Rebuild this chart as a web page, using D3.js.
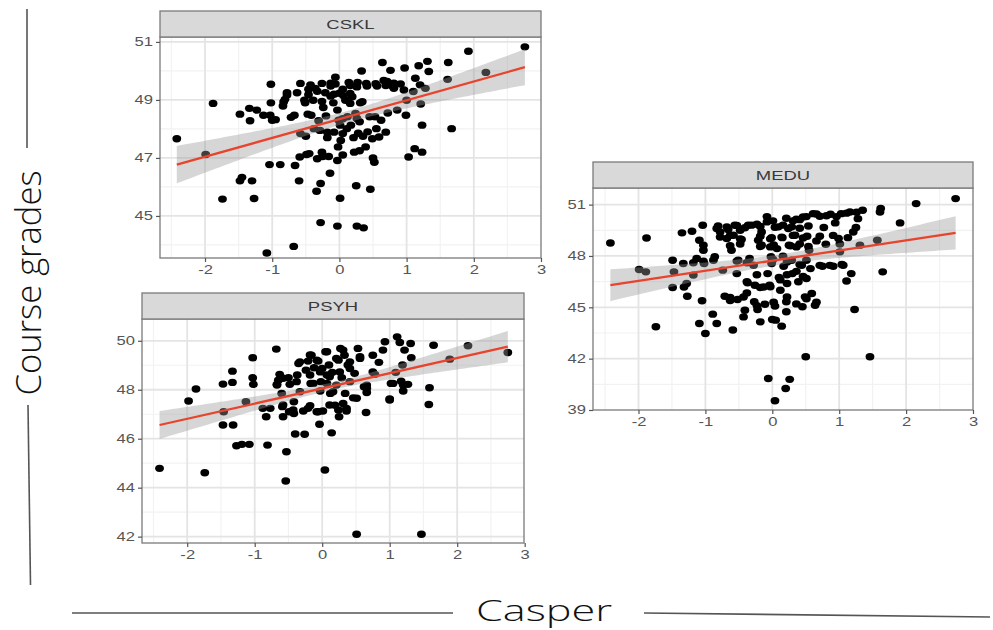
<!DOCTYPE html>
<html><head><meta charset="utf-8">
<script src="https://cdnjs.cloudflare.com/ajax/libs/d3/7.8.5/d3.min.js"></script>
<style>body{margin:0;background:#fff}svg{display:block}</style>
</head><body>
<svg id="chart" width="993" height="630"></svg>
<script>
// ---------- data ----------
const xTicks = [-2, -1, 0, 1, 2, 3];
const xMinor = [-2.5, -1.5, -0.5, 0.5, 1.5, 2.5];
const csklTicks = [45, 47, 49, 51];
const csklMinor = [44, 46, 48, 50];
const meduTicks = [39, 42, 45, 48, 51];
const meduMinor = [40.5, 43.5, 46.5, 49.5];
const psyhTicks = [42, 44, 46, 48, 50];
const psyhMinor = [43, 45, 47, 49];
const panelNames = ["CSKL", "MEDU", "PSYH"];
const xTitle = "Casper";
const yTitle = "Course grades";

const csklPoints = [[-2.42,47.66],[-1.99,47.12],[-1.88,48.88],[-1.74,45.58],[-1.48,48.51],[-1.48,46.21],[-1.45,46.33],[-1.34,48.71],[-1.33,48.28],[-1.30,46.21],[-1.27,45.60],[-1.23,48.65],[-1.13,48.47],[-1.08,43.72],[-1.02,49.54],[-1.02,48.90],[-1.03,48.47],[-1.00,48.30],[-1.04,46.77],[-0.88,46.77],[-0.84,48.79],[-0.81,49.02],[-0.78,49.17],[-0.68,43.95],[-0.66,46.74],[-0.67,48.47],[-0.63,49.25],[-0.58,49.57],[-0.58,47.84],[-0.60,46.21],[-0.59,47.03],[-0.52,48.99],[-0.49,47.12],[-0.47,48.51],[-0.46,49.37],[-0.42,48.47],[-0.39,48.99],[-0.38,48.01],[-0.36,49.40],[-0.34,45.85],[-0.33,46.97],[-0.31,48.28],[-0.29,47.95],[-0.28,46.12],[-0.28,44.77],[-0.26,49.57],[-0.26,47.20],[-0.24,48.74],[-0.21,49.25],[-0.18,47.89],[-0.16,47.05],[-0.14,46.47],[-0.13,49.48],[-0.13,49.13],[-0.09,48.90],[-0.08,47.89],[-0.06,49.55],[-0.06,49.78],[-0.03,48.65],[-0.03,46.91],[-0.03,44.65],[-0.02,47.38],[-0.01,48.30],[0.00,49.23],[0.01,48.13],[0.01,45.61],[0.02,47.60],[0.05,47.84],[0.05,49.37],[0.09,48.99],[0.11,48.01],[0.12,48.42],[0.14,49.60],[0.16,48.88],[0.17,48.13],[0.19,49.11],[0.21,47.70],[0.22,47.20],[0.25,46.04],[0.26,44.65],[0.27,49.60],[0.24,48.53],[0.26,48.36],[0.33,50.00],[0.34,48.94],[0.36,44.59],[0.39,47.38],[0.40,49.57],[0.41,49.48],[0.45,48.42],[0.46,45.92],[0.49,47.66],[0.52,46.85],[0.53,48.42],[0.55,48.01],[0.56,49.48],[0.59,47.72],[0.64,50.29],[0.66,49.67],[0.69,47.89],[0.71,49.64],[0.76,50.02],[0.79,49.48],[0.81,49.40],[0.86,48.65],[0.91,49.55],[0.96,49.34],[0.97,50.10],[0.99,48.47],[1.00,48.99],[1.03,47.03],[1.10,49.29],[1.12,47.32],[1.13,49.75],[1.18,50.18],[1.20,49.52],[1.21,48.86],[1.23,48.13],[1.23,47.20],[1.28,49.40],[1.31,50.33],[1.33,49.98],[1.61,49.71],[1.62,50.29],[1.67,48.01],[1.92,50.68],[2.18,49.95],[2.76,50.83],
[-0.43,49.52],[-0.13,49.58],[0.16,49.50],[0.26,49.45],[0.54,49.56],[0.69,49.50],[0.81,49.58],[-0.78,49.25],[-0.46,49.18],[-0.33,49.30],[-0.08,49.20],[0.06,49.15],[0.16,49.22],[-0.83,48.93],[-0.51,48.90],[-0.26,48.95],[0.31,48.90],[-0.95,48.32],[-0.72,48.40],[-0.20,48.45],[0.05,48.35],[0.30,48.25],[0.62,48.30],[0.72,48.55],[-0.50,47.75],[-0.18,47.70],[0.28,47.85],[0.35,47.75],[0.42,47.90],[-0.45,47.15],[-0.25,47.05],[0.05,47.10],[0.30,47.25],[0.50,47.00]];

const meduPoints = [[-2.42,48.76],[-1.99,47.21],[-1.89,47.07],[-1.88,49.05],[-1.74,43.86],[-1.49,47.75],[-1.49,46.16],[-1.47,47.07],[-1.35,49.35],[-1.33,47.56],[-1.32,46.19],[-1.28,46.39],[-1.27,45.65],[-1.20,49.44],[-1.18,46.88],[-1.13,47.85],[-1.09,44.05],[-1.09,48.92],[-1.05,45.38],[-1.04,49.79],[-1.03,48.63],[-1.03,48.33],[-1.02,47.56],[-1.00,43.47],[-0.89,44.60],[-0.86,47.95],[-0.83,44.05],[-0.83,49.60],[-0.78,49.40],[-0.74,47.17],[-0.71,45.65],[-0.68,49.02],[-0.66,49.54],[-0.63,45.57],[-0.61,48.33],[-0.59,43.67],[-0.58,49.21],[-0.56,49.79],[-0.53,46.97],[-0.52,45.46],[-0.51,47.75],[-0.48,49.50],[-0.46,48.96],[-0.43,44.44],[-0.41,44.83],[-0.38,45.84],[-0.37,46.43],[-0.36,49.79],[-0.34,47.85],[-0.28,47.46],[-0.27,45.32],[-0.26,46.29],[-0.23,49.85],[-0.22,44.87],[-0.21,48.92],[-0.18,44.15],[-0.18,46.16],[-0.16,49.40],[-0.16,48.63],[-0.13,46.19],[-0.11,45.18],[-0.08,49.99],[-0.07,46.97],[-0.06,40.84],[-0.04,46.29],[-0.03,48.53],[-0.02,47.95],[-0.01,49.07],[-0.01,47.56],[0.00,44.29],[0.01,50.05],[0.04,39.54],[0.04,45.07],[0.05,44.25],[0.07,48.43],[0.09,49.70],[0.10,46.74],[0.12,46.00],[0.14,43.90],[0.15,49.07],[0.16,47.98],[0.17,47.40],[0.20,40.26],[0.21,44.74],[0.21,45.32],[0.22,46.39],[0.24,49.60],[0.25,48.63],[0.26,40.79],[0.29,47.75],[0.30,46.97],[0.31,50.05],[0.34,49.21],[0.36,48.53],[0.39,46.49],[0.41,50.12],[0.44,47.46],[0.45,45.03],[0.46,50.28],[0.49,45.61],[0.50,42.11],[0.51,46.68],[0.52,49.15],[0.55,48.33],[0.57,47.26],[0.59,45.81],[0.61,50.47],[0.64,45.12],[0.66,48.88],[0.71,50.32],[0.75,47.40],[0.77,49.66],[0.80,48.68],[0.87,50.44],[0.91,47.40],[0.94,49.93],[0.99,49.02],[1.01,48.24],[1.03,50.47],[1.06,47.46],[1.11,46.54],[1.13,49.07],[1.16,50.57],[1.18,46.97],[1.21,49.40],[1.23,44.87],[1.25,49.66],[1.28,50.18],[1.31,48.63],[1.35,50.67],[1.46,42.11],[1.57,48.92],[1.61,50.57],[1.62,50.77],[1.65,47.07],[1.91,49.93],[2.15,51.06],[2.74,51.35],
[-0.81,49.75],[-0.68,49.70],[-0.53,49.78],[-0.41,49.65],[-0.31,49.80],[-0.18,49.72],[0.04,49.68],[0.16,49.80],[0.29,49.70],[0.41,49.62],[0.54,49.75],[-0.08,50.30],[0.21,50.20],[0.36,50.15],[0.51,50.30],[0.66,50.45],[0.81,50.35],[0.96,50.30],[1.11,50.50],[1.26,50.55],[-0.78,49.10],[-0.63,49.20],[-0.48,49.00],[-0.18,49.15],[-0.03,49.00],[0.14,49.10],[0.31,49.20],[0.46,49.05],[0.71,49.15],[0.91,49.20],[-0.63,48.60],[-0.48,48.70],[-0.18,48.55],[0.02,48.65],[0.27,48.60],[0.41,48.70],[0.54,48.55],[1.01,48.70],[-1.18,47.60],[-1.03,47.70],[-0.88,47.75],[-0.53,47.70],[-0.38,47.60],[0.01,47.80],[0.22,47.65],[0.41,47.50],[0.51,47.75],[0.71,47.45],[0.86,47.45],[1.04,47.50],[-0.38,46.50],[-0.23,46.90],[-0.03,46.20],[0.12,46.60],[0.22,46.90],[0.36,47.10],[0.46,46.80],[-0.63,45.40],[-0.43,45.60],[-0.23,45.10],[0.02,45.30],[0.22,45.60],[0.36,45.20],[0.51,45.50],[0.66,45.30]];

const psyhPoints = [[-2.41,44.79],[-1.98,47.54],[-1.87,48.03],[-1.74,44.61],[-1.46,47.10],[-1.47,48.23],[-1.47,46.56],[-1.33,48.76],[-1.33,48.30],[-1.32,46.56],[-1.27,45.71],[-1.19,45.77],[-1.08,45.77],[-1.13,47.51],[-1.03,49.31],[-1.03,48.49],[-1.02,48.22],[-0.88,47.24],[-0.83,46.90],[-0.81,45.74],[-0.77,47.24],[-0.68,49.66],[-0.67,48.22],[-0.65,48.39],[-0.63,48.63],[-0.60,47.85],[-0.59,47.31],[-0.58,46.90],[-0.53,45.47],[-0.54,44.27],[-0.50,48.49],[-0.49,47.10],[-0.48,48.22],[-0.42,47.51],[-0.42,47.03],[-0.40,46.19],[-0.37,48.60],[-0.35,49.07],[-0.33,47.92],[-0.28,47.13],[-0.26,46.18],[-0.24,48.80],[-0.21,49.17],[-0.18,47.35],[-0.17,48.26],[-0.16,49.41],[-0.12,48.90],[-0.08,47.10],[-0.06,49.17],[-0.04,46.59],[-0.03,47.95],[-0.02,48.33],[0.00,48.87],[0.01,47.13],[0.04,44.72],[0.05,49.55],[0.07,48.60],[0.10,49.01],[0.12,47.85],[0.14,46.24],[0.15,48.71],[0.19,47.37],[0.21,48.19],[0.24,49.21],[0.25,46.90],[0.27,49.69],[0.29,48.49],[0.31,47.44],[0.33,49.41],[0.36,47.13],[0.38,49.01],[0.41,48.33],[0.46,47.67],[0.48,48.67],[0.51,42.10],[0.53,49.69],[0.56,49.28],[0.62,48.12],[0.65,47.07],[0.66,47.89],[0.75,49.41],[0.78,48.63],[0.84,49.12],[0.90,49.62],[0.93,49.96],[1.00,47.62],[1.02,48.26],[1.09,48.71],[1.11,50.16],[1.15,49.93],[1.17,48.35],[1.19,49.01],[1.20,47.95],[1.22,49.62],[1.27,48.22],[1.31,49.89],[1.32,49.31],[1.47,42.10],[1.58,47.40],[1.59,48.08],[1.65,49.82],[1.89,49.25],[2.16,49.80],[2.75,49.52],
[-0.33,49.14],[-0.18,49.42],[-0.08,49.21],[0.07,49.55],[0.21,49.28],[0.31,49.62],[0.41,49.14],[0.56,49.35],[-0.18,48.60],[-0.03,48.73],[0.11,48.53],[0.26,48.73],[0.41,48.87],[0.07,48.26],[-0.13,48.26],[-0.38,48.33],[-0.58,48.47],[-0.67,48.19],[0.66,48.19],[0.75,48.73],[-0.58,47.38],[-0.43,47.17],[-0.21,47.24],[-0.06,47.10],[0.11,47.38],[0.24,47.17],[0.36,47.24],[0.16,47.92],[0.34,47.85],[0.51,47.65],[0.66,48.06],[1.05,48.26],[1.20,48.19],[1.00,47.58]];

// fitted line [x, y] at both ends, ribbon half-width [left, narrowest, right] and x of narrowest point
const csklFitLine = [[-2.42, 46.77], [2.76, 50.13]];
const csklBand = [0.645, 0.2, 0.62];
const csklBandCenter = 0.15;
const meduFitLine = [[-2.42, 46.29], [2.74, 49.35]];
const meduBand = [0.93, 0.3, 0.97];
const meduBandCenter = 0.1;
const psyhFitLine = [[-2.41, 46.56], [2.75, 49.76]];
const psyhBand = [0.57, 0.15, 0.64];
const psyhBandCenter = 0.15;

// ---------- layout ----------
const panels = [
  {name: panelNames[0], pts: csklPoints, fit: csklFitLine, band: csklBand, bc: csklBandCenter,
   left: 160, right: 541, stripTop: 11, top: 37, bottom: 258,
   xDom: [-2.67, 3.0], yDom: [43.55, 51.17], yTicks: csklTicks, yMinor: csklMinor},
  {name: panelNames[1], pts: meduPoints, fit: meduFitLine, band: meduBand, bc: meduBandCenter,
   left: 593, right: 973, stripTop: 162, top: 188, bottom: 410,
   xDom: [-2.68, 3.0], yDom: [39, 51.97], yTicks: meduTicks, yMinor: meduMinor},
  {name: panelNames[2], pts: psyhPoints, fit: psyhFitLine, band: psyhBand, bc: psyhBandCenter,
   left: 142, right: 524, stripTop: 293, top: 319, bottom: 543,
   xDom: [-2.67, 2.99], yDom: [41.74, 50.89], yTicks: psyhTicks, yMinor: psyhMinor}
];

const svg = d3.select("#chart");
const TXT = 1.38; // horizontal stretch of the reference's lettering

function stretch(sel, k) {
  sel.each(function () {
    const w = this.getComputedTextLength();
    if (w > 0) {
      this.setAttribute("textLength", (w * k).toFixed(2));
      this.setAttribute("lengthAdjust", "spacingAndGlyphs");
    }
  });
}

panels.forEach(p => {
  const x = d3.scaleLinear().domain(p.xDom).range([p.left, p.right]);
  const y = d3.scaleLinear().domain(p.yDom).range([p.bottom, p.top]);
  const g = svg.append("g");

  g.append("rect").attr("x", p.left).attr("y", p.top)
    .attr("width", p.right - p.left).attr("height", p.bottom - p.top).attr("fill", "#fff");

  // minor grid
  g.selectAll(".vminor").data(xMinor.filter(v => v > p.xDom[0] && v < p.xDom[1])).join("line")
    .attr("x1", d => x(d)).attr("x2", d => x(d)).attr("y1", p.top).attr("y2", p.bottom)
    .attr("stroke", "#f2f2f2").attr("stroke-width", 1.2);
  g.selectAll(".hminor").data(p.yMinor.filter(v => v > p.yDom[0] && v < p.yDom[1])).join("line")
    .attr("y1", d => y(d)).attr("y2", d => y(d)).attr("x1", p.left).attr("x2", p.right)
    .attr("stroke", "#f2f2f2").attr("stroke-width", 1.2);
  // major grid
  g.selectAll(".vmajor").data(xTicks.filter(v => v > p.xDom[0] && v < p.xDom[1])).join("line")
    .attr("x1", d => x(d)).attr("x2", d => x(d)).attr("y1", p.top).attr("y2", p.bottom)
    .attr("stroke", "#e4e4e4").attr("stroke-width", 1.8);
  g.selectAll(".hmajor").data(p.yTicks.filter(v => v > p.yDom[0] && v < p.yDom[1])).join("line")
    .attr("y1", d => y(d)).attr("y2", d => y(d)).attr("x1", p.left).attr("x2", p.right)
    .attr("stroke", "#e4e4e4").attr("stroke-width", 1.8);

  // points
  g.selectAll(".pt").data(p.pts).join("ellipse")
    .attr("cx", d => x(d[0])).attr("cy", d => y(d[1]))
    .attr("rx", 4.4).attr("ry", 3.7).attr("fill", "#000");

  // ribbon + fit
  const [x0, y0] = p.fit[0], [x1, y1] = p.fit[1];
  const lineY = v => y0 + (y1 - y0) * (v - x0) / (x1 - x0);
  const h0 = p.band[1];
  const kL = Math.sqrt(p.band[0] ** 2 - h0 * h0) / (p.bc - x0);
  const kR = Math.sqrt(p.band[2] ** 2 - h0 * h0) / (x1 - p.bc);
  const xs = d3.range(0, 81).map(i => x0 + (x1 - x0) * i / 80);
  const half = v => Math.sqrt(h0 * h0 + ((v < p.bc ? kL : kR) * (v - p.bc)) ** 2);
  const area = d3.area().x(v => x(v)).y0(v => y(lineY(v) - half(v))).y1(v => y(lineY(v) + half(v)));
  g.append("path").attr("d", area(xs)).attr("fill", "#999").attr("fill-opacity", 0.4);
  g.append("line").attr("x1", x(x0)).attr("y1", y(y0)).attr("x2", x(x1)).attr("y2", y(y1))
    .attr("stroke", "#e8432c").attr("stroke-width", 2.3);

  // border
  g.append("rect").attr("x", p.left).attr("y", p.top)
    .attr("width", p.right - p.left).attr("height", p.bottom - p.top)
    .attr("fill", "none").attr("stroke", "#7a7a7a").attr("stroke-width", 1.3);

  // strip
  g.append("rect").attr("x", p.left).attr("y", p.stripTop)
    .attr("width", p.right - p.left).attr("height", p.top - p.stripTop)
    .attr("fill", "#d9d9d9").attr("stroke", "#7a7a7a").attr("stroke-width", 1.3);
  g.append("text").attr("x", (p.left + p.right) / 2).attr("y", (p.stripTop + p.top) / 2 + 4.5)
    .attr("text-anchor", "middle").attr("font-family", "Liberation Sans, Arial, sans-serif")
    .attr("font-size", 13).attr("fill", "#3a3a3a").text(p.name).call(stretch, 1.42);

  // axes
  const ax = g.append("g").attr("transform", `translate(0,${p.bottom})`)
    .call(d3.axisBottom(x).tickValues(xTicks).tickSize(4).tickPadding(3).tickFormat(d3.format("d")));
  const ay = g.append("g").attr("transform", `translate(${p.left},0)`)
    .call(d3.axisLeft(y).tickValues(p.yTicks).tickSize(4).tickPadding(3).tickFormat(d3.format("d")));
  [ax, ay].forEach(a => {
    a.select(".domain").remove();
    a.selectAll(".tick line").attr("stroke", "#555").attr("stroke-width", 1.2);
    a.selectAll(".tick text").attr("fill", "#555").attr("font-size", 12)
      .attr("font-family", "Liberation Sans, Arial, sans-serif")
      .text(d => String(d))
      .call(stretch, TXT);
  });
});

// ---------- outer titles and rules ----------
const deco = svg.append("g").attr("stroke", "#555").attr("stroke-width", 1.6);
deco.append("line").attr("x1", 27).attr("y1", 9).attr("x2", 27).attr("y2", 148);
deco.append("line").attr("x1", 28).attr("y1", 405).attr("x2", 30.5).attr("y2", 585);
deco.append("line").attr("x1", 72).attr("y1", 613).attr("x2", 453).attr("y2", 613);
deco.append("line").attr("x1", 644).attr("y1", 613).attr("x2", 990).attr("y2", 617);

svg.append("text").attr("transform", "translate(41,283) rotate(-90)")
  .attr("text-anchor", "middle").attr("font-family", "Open Sans, Noto Sans, sans-serif")
  .attr("font-weight", 300).attr("font-size", 35).attr("fill", "#111")
  .attr("textLength", 225).attr("lengthAdjust", "spacingAndGlyphs").text(yTitle);

svg.append("text").attr("x", 544).attr("y", 621)
  .attr("text-anchor", "middle").attr("font-family", "Open Sans, Noto Sans, sans-serif")
  .attr("font-weight", 300).attr("font-size", 29).attr("fill", "#111")
  .attr("textLength", 136).attr("lengthAdjust", "spacingAndGlyphs").text(xTitle);
</script>
</body></html>
